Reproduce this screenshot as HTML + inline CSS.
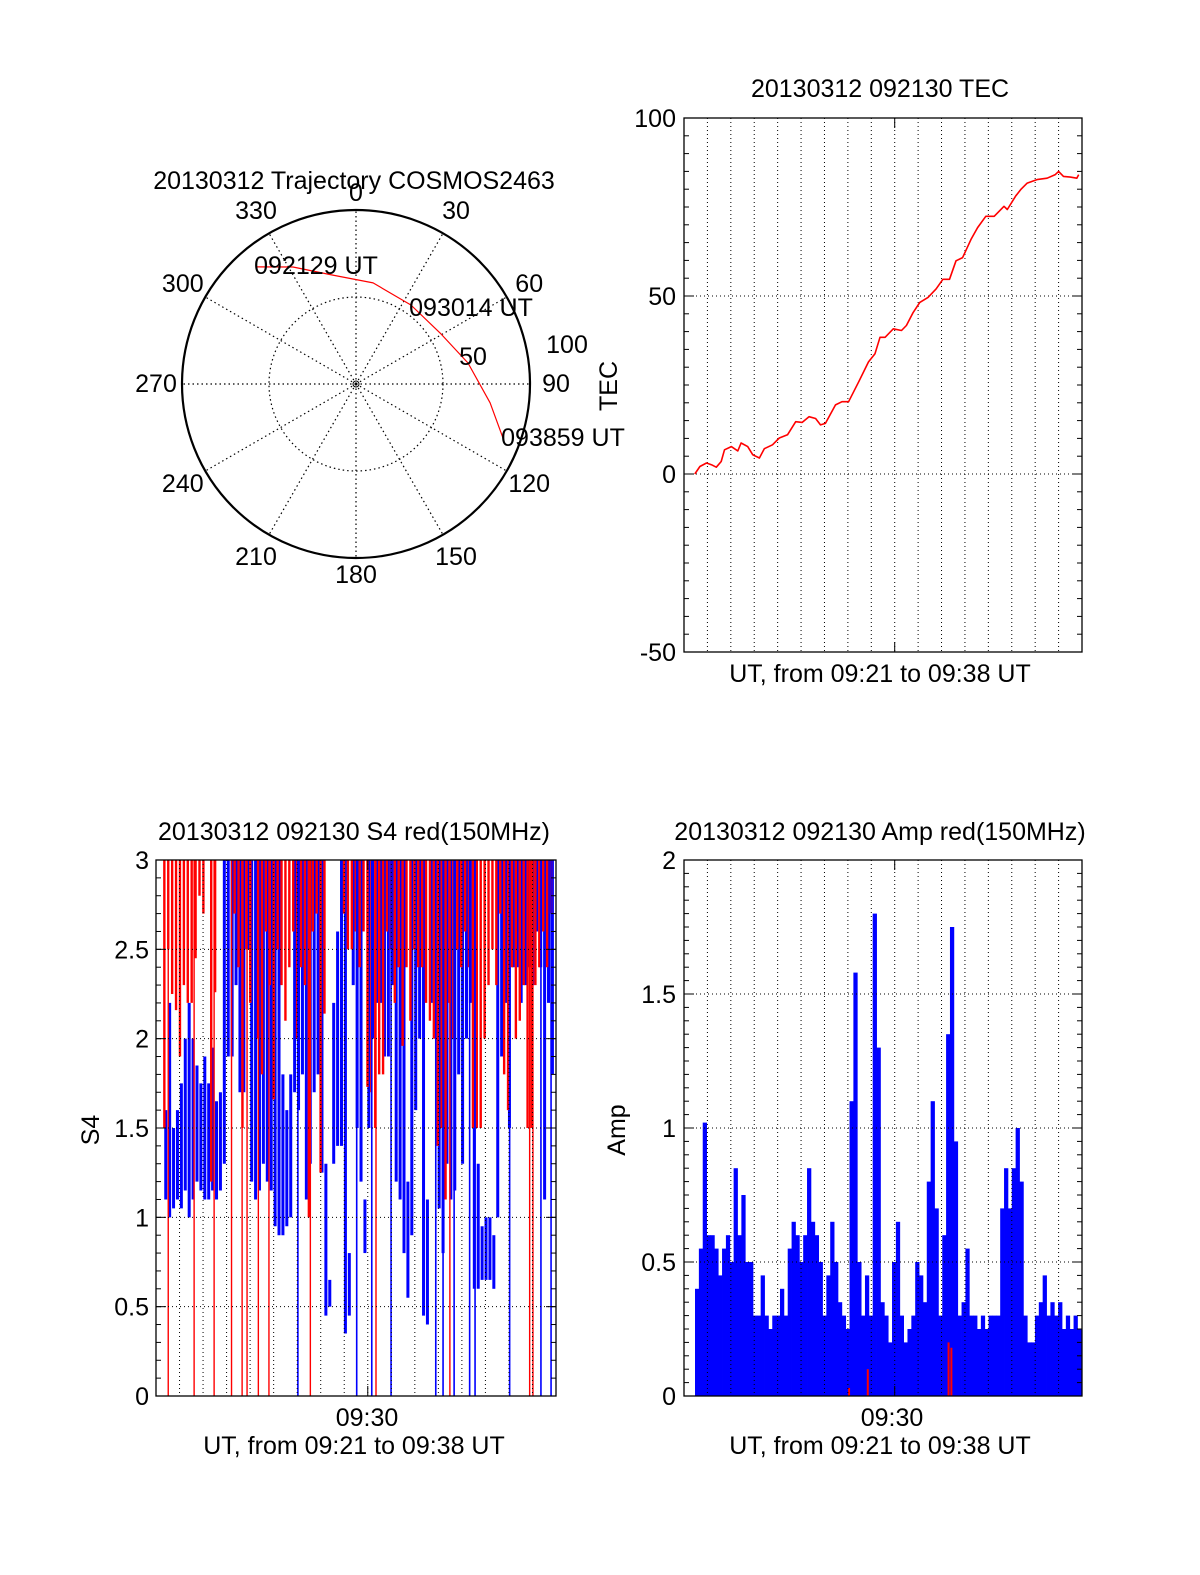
<!DOCTYPE html>
<html><head><meta charset="utf-8"><style>
body{margin:0;background:#fff}
svg{display:block}
text{font-family:"Liberation Sans",Arial,sans-serif;font-size:25px;fill:#000}
</style></head><body>
<svg id="fig" width="1200" height="1575" viewBox="0 0 1200 1575" xmlns="http://www.w3.org/2000/svg">
<rect width="1200" height="1575" fill="#fff"/>
<g id="polar"></g>
<g id="tec"></g>
<g id="s4"></g>
<g id="amp"></g>
</svg>
<script>
// ---------- data ----------
const polarAz = [319.5, 331.7, 348, 9.6, 34.8, 58.7, 79.4, 98, 110.2];
const polarR = [88.5, 76.4, 64.0, 58.9, 55.3, 56.5, 65.5, 77.8, 90.0];
const polarAzLabels = ["0","30","60","90","120","150","180","210","240","270","300","330"];

const tecTime = [0.46,0.68,0.96,1.17,1.38,1.59,1.73,2.02,2.30,2.44,2.72,2.94,3.22,3.43,3.78,4.07,4.42,4.77,5.05,5.34,5.62,5.83,6.04,6.47,6.75,7.03,7.46,7.88,8.16,8.37,8.59,8.94,9.29,9.50,9.79,10.07,10.42,10.77,11.06,11.34,11.62,11.90,12.26,12.54,12.89,13.25,13.67,13.81,14.16,14.38,14.66,15.08,15.51,15.86,16.00,16.21,16.50,16.78,16.86];
const tecValue = [0,2.1,3.1,2.6,1.9,3.5,6.8,7.7,6.5,8.7,7.7,5.4,4.5,7.1,8.2,10.1,11.0,14.7,14.5,16.1,15.6,13.8,14.2,19.4,20.3,20.3,25.9,31.5,33.8,38.4,38.4,40.8,40.3,41.7,45.4,48.2,49.6,52.0,54.7,54.7,59.9,60.8,65.9,69.2,72.4,72.4,75.2,74.3,78.0,79.9,81.7,82.7,83.1,84.1,85.0,83.6,83.4,83.1,84.1];
const tecTicks = ["100","50","0","-50"];

const s4Start = 0.38, s4Step = 0.166;
const s4BlueLo = [1.1,1.0,1.05,1.1,1.05,1.15,1.0,1.1,1.2,1.15,1.1,1.1,1.15,1.1,1.15,1.3,1.9,1.9,2.3,1.7,1.7,2.5,1.2,1.1,1.15,1.3,1.2,1.15,0.95,0.9,0.9,0.95,1.0,1.7,1.6,1.8,1.1,1.3,1.7,1.8,1.25,0.45,0.5,1.3,1.4,1.4,0.35,0.45,2.3,1.5,1.2,0.8,1.5,2.0,2.2,2.2,1.9,1.9,2.3,1.2,1.1,0.8,0.55,0.9,1.6,2.0,0.45,0.4,2.2,2.0,1.05,0.8,1.3,1.1,1.15,1.8,1.3,2.0,2.2,0.6,0.6,0.65,0.65,0.65,0.6,1.0,1.9,2.2,1.5,2.4,2.4,2.2,2.3,2.4,2.3,2.6,2.4,1.1,2.2,1.8];
const s4BlueHi = [1.6,2.2,1.5,1.6,1.75,2.0,2.2,2.0,1.85,1.75,1.9,1.75,1.95,1.65,1.7,3,3,3,3,3,3,3,3,3,3,3,3,3,3,3,1.8,1.6,1.8,3,3,3,3,3,3,3,3,1.3,0.65,2.2,2.6,3,3,0.8,3,3,3,1.1,3,3,3,3,3,3,3,3,3,3,1.2,3,3,3,3,1.1,3,3,3,3,3,3,3,3,3,3,3,3,1.3,0.95,1.0,1.0,0.9,3,3,3,3,3,3,3,3,3,3,3,3,3,3,3];
const s4RedLo = [1.5,2.5,2.25,2.16,1.9,2.3,2.2,2.2,2.45,2.8,2.7,3,1.2,2.26,3,3,3,3,2.7,2.4,1.5,2.5,2.2,3,2.0,1.8,2.6,2.3,1.66,2.5,2.3,2.1,2.4,2.6,2.0,2.4,2.3,1.0,2.6,2.7,1.25,2.14,3,3,3,3,2.7,2.5,2.5,2.6,2.4,2.6,1.73,1.7,1.5,1.8,1.8,2.6,2.5,2.2,2.4,1.96,2.4,2.1,2.5,2.4,2.4,2.2,2.1,2.0,1.4,1.5,1.1,2.2,2.0,2.5,2.4,2.6,2.4,1.5,1.5,1.5,2.0,2.3,2.5,2.3,2.7,1.8,1.6,2.4,2.0,2.1,2.3,1.5,1.5,2.3,2.4,2.6,2.4,2.7];
const s4RedFull = [0.52,1.62,2.47,3.21,3.66,3.87,4.35,4.80,6.56,9.35,12.49,15.88,16.02];
const s4BlueFull = [6.03,8.53,9.17,9.99,11.89,12.20,12.67,13.33,13.56,15.03,16.36,16.79];
const s4Ticks = ["0","0.5","1","1.5","2","2.5","3"];

const ampStart = 0.47, ampStep = 0.165;
const ampPeak = [0.4,0.55,1.02,0.6,0.6,0.55,0.45,0.55,0.6,0.5,0.85,0.6,0.75,0.5,0.5,0.3,0.3,0.45,0.3,0.25,0.3,0.3,0.4,0.3,0.55,0.65,0.6,0.5,0.6,0.85,0.65,0.6,0.5,0.3,0.45,0.65,0.5,0.35,0.3,0.25,1.1,1.58,0.5,0.3,0.45,0.3,1.8,1.3,0.35,0.3,0.2,0.5,0.65,0.3,0.2,0.25,0.3,0.5,0.45,0.35,0.8,1.1,0.7,0.3,0.6,1.35,1.75,0.95,0.3,0.35,0.55,0.3,0.3,0.25,0.3,0.25,0.3,0.3,0.3,0.7,0.85,0.7,0.85,1.0,0.8,0.3,0.2,0.2,0.3,0.35,0.45,0.3,0.35,0.3,0.35,0.25,0.3,0.25,0.3,0.25];
const ampRedTime = [7.05, 7.85, 11.3, 11.42];
const ampRedValue = [0.03, 0.1, 0.2, 0.18];
const ampTicks = ["0","0.5","1","1.5","2"];

// ---------- helpers ----------
const NS = "http://www.w3.org/2000/svg";
function mk(parent, tag, attrs, txt){
  const e = document.createElementNS(NS, tag);
  for (const k in attrs) e.setAttribute(k, attrs[k]);
  if (txt !== undefined) e.textContent = txt;
  parent.appendChild(e);
  return e;
}
function line(p, x1,y1,x2,y2, stroke, w, dash){
  const a = {x1:x1,y1:y1,x2:x2,y2:y2,stroke:stroke,"stroke-width":w};
  if (dash) a["stroke-dasharray"] = dash;
  return mk(p,"line",a);
}
function label(p, x, y, s, anchor, name, rot){
  const a = {x:x,y:y,"text-anchor":anchor||"middle","dominant-baseline":"central"};
  if (rot) a.transform = "rotate(-90 "+x+" "+y+")";
  const t = mk(p,"text",a,s);
  
  
  return t;
}
function linear(d0,d1,r0,r1){ return v => r0 + (v-d0)/(d1-d0)*(r1-r0); }

function frame(g, L, R, T, B, yMin, yMax, majors, minorStep, yScale, xScale){
  for (let m = 1; m < 17; m++){
    const x = xScale(m);
    const gl = line(g, x, T, x, B, "#000", 1, "1,3");
    
    
  }
  majors.forEach(v => {
    const y = yScale(v);
    if (v > yMin && v < yMax){
      const gl = line(g, L, y, R, y, "#000", 1, "1,3");
      
      
    }
    line(g, L, y, L+10, y, "#000", 1);
    line(g, R-10, y, R, y, "#000", 1);
  });
  const n = Math.round((yMax-yMin)/minorStep);
  for (let i = 0; i <= n; i++){
    const y = yScale(yMin + i*minorStep);
    line(g, L, y, L+5, y, "#000", 1);
    line(g, R-5, y, R, y, "#000", 1);
  }
  const t9 = xScale(9);
  line(g, t9, B, t9, B-10, "#000", 1);
  line(g, t9, T, t9, T+10, "#000", 1);
}
function border(g, L,R,T,B){
  const r = mk(g,"rect",{x:L,y:T,width:R-L,height:B-T,fill:"none",stroke:"#000","stroke-width":1.3});
  
  
}

// ---------- polar ----------
(function(){
  const g = document.getElementById("polar");
  const cx = 356, cy = 384, R = 174;
  const rs = linear(0,100,0,R);
  for (let a = 0; a < 360; a += 30){
    const rad = a*Math.PI/180;
    const sp = line(g, cx, cy, cx+R*Math.sin(rad), cy-R*Math.cos(rad), "#000", 1.2, "1.5,3");
    
    
  }
  const ic = mk(g,"circle",{cx:cx,cy:cy,r:rs(50),fill:"none",stroke:"#000","stroke-width":1.2,"stroke-dasharray":"1.5,3"});
  
  
  mk(g,"circle",{cx:cx,cy:cy,r:3,fill:"none",stroke:"#000","stroke-width":1});
  const oc = mk(g,"circle",{cx:cx,cy:cy,r:R,fill:"none",stroke:"#000","stroke-width":2.2});
  
  
  polarAzLabels.forEach((s,i) => {
    const a = +s*Math.PI/180;
    const lr = (s==="0"||s==="180") ? 191 : 200;
    label(g, cx+lr*Math.sin(a), cy-lr*Math.cos(a), s, "middle", "azimuth-label-"+s);
  });
  let pts = [];
  for (let i = 0; i < polarAz.length; i++){
    const a = polarAz[i]*Math.PI/180, r = rs(polarR[i]);
    pts.push((cx + r*Math.sin(a)).toFixed(1)+","+(cy - r*Math.cos(a)).toFixed(1));
  }
  const tr = mk(g,"polyline",{points:pts.join(" "),fill:"none",stroke:"#f00","stroke-width":1.2,"stroke-linejoin":"round"});
  
  
  label(g, 354, 181, "20130312 Trajectory COSMOS2463", "middle", "polar-title");
  label(g, 316, 266, "092129 UT", "middle", "start-time-label");
  label(g, 471, 308, "093014 UT", "middle", "mid-time-label");
  label(g, 563, 438, "093859 UT", "middle", "end-time-label");
  label(g, 473, 357, "50", "middle", "radial-label-50");
  label(g, 567, 345, "100", "middle", "radial-label-100");
})();

// ---------- TEC ----------
(function(){
  const g = document.getElementById("tec");
  const L=684, R=1082, T=118, B=652;
  const y = linear(-50,100,B,T), x = linear(0,17,L,R);
  frame(g, L,R,T,B, -50,100, [-50,0,50,100], 5, y, x);
  const pts = tecTime.map((t,i)=> x(t).toFixed(1)+","+y(tecValue[i]).toFixed(1)).join(" ");
  const pl = mk(g,"polyline",{points:pts,fill:"none",stroke:"#f00","stroke-width":1.6,"stroke-linejoin":"round"});
  
  
  border(g,L,R,T,B);
  tecTicks.forEach(s => label(g, 676, y(+s)+1, s, "end", "y-tick-label"));
  label(g, 880, 89, "20130312 092130 TEC", "middle", "tec-title");
  label(g, 880, 674, "UT, from 09:21 to 09:38 UT", "middle", "x-axis-title");
  label(g, 609, 386, "TEC", "middle", "y-axis-title", true);
})();

// ---------- S4 ----------
(function(){
  const g = document.getElementById("s4");
  const L=156, R=556, T=860, B=1396;
  const y = linear(0,3,B,T), x = linear(0,17,L,R);
  const data = mk(g,"g",{});
  
  
  s4BlueLo.forEach((v,i) => {
    const xx = x(s4Start + i*s4Step) + 0.8;
    const l = line(data, xx, y(s4BlueHi[i]), xx, y(v), "#00f", 3);
    
    
  });
  s4RedLo.forEach((v,i) => {
    if (v >= 3) return;
    const xx = x(s4Start + i*s4Step) - 0.6;
    const l = line(data, xx, y(3), xx, y(v), "#f00", 2.4);
    
    
  });
  s4RedFull.forEach(t => {
    const l = line(data, x(t), y(3), x(t), y(0), "#f00", 1.4);
    
    
  });
  s4BlueFull.forEach(t => {
    const l = line(data, x(t), y(3), x(t), y(0), "#00f", 1.6);
    
    
  });
  frame(g, L,R,T,B, 0,3, [0,0.5,1,1.5,2,2.5,3], 0.1, y, x);
  border(g,L,R,T,B);
  s4Ticks.forEach(s => label(g, 149, y(+s)+1, s, "end", "y-tick-label"));
  label(g, 367, 1418, "09:30", "middle", "x-tick-label");
  label(g, 354, 832, "20130312 092130 S4 red(150MHz)", "middle", "s4-title");
  label(g, 354, 1446, "UT, from 09:21 to 09:38 UT", "middle", "x-axis-title");
  label(g, 91, 1130, "S4", "middle", "y-axis-title", true);
})();

// ---------- Amp ----------
(function(){
  const g = document.getElementById("amp");
  const L=684, R=1082, T=860, B=1396;
  const y = linear(0,2,B,T), x = linear(0,17,L,R);
  const data = mk(g,"g",{});
  
  
  const w = x(ampStep) - x(0);
  ampPeak.forEach((v,i) => {
    const x0 = x(ampStart + i*ampStep);
    const r = mk(data,"rect",{x:x0.toFixed(2),y:y(v).toFixed(1),width:(w+0.4).toFixed(2),height:(B-y(v)).toFixed(1),fill:"#00f"});
    
    
  });
  ampRedTime.forEach((t,i) => {
    const l = line(data, x(t), y(0), x(t), y(ampRedValue[i]), "#f00", 2);
    
    
  });
  frame(g, L,R,T,B, 0,2, [0,0.5,1,1.5,2], 0.05, y, x);
  border(g,L,R,T,B);
  ampTicks.forEach(s => label(g, 676, y(+s)+1, s, "end", "y-tick-label"));
  label(g, 892, 1418, "09:30", "middle", "x-tick-label");
  label(g, 880, 832, "20130312 092130 Amp red(150MHz)", "middle", "amp-title");
  label(g, 880, 1446, "UT, from 09:21 to 09:38 UT", "middle", "x-axis-title");
  label(g, 617, 1130, "Amp", "middle", "y-axis-title", true);
})();
</script>
</body></html>
